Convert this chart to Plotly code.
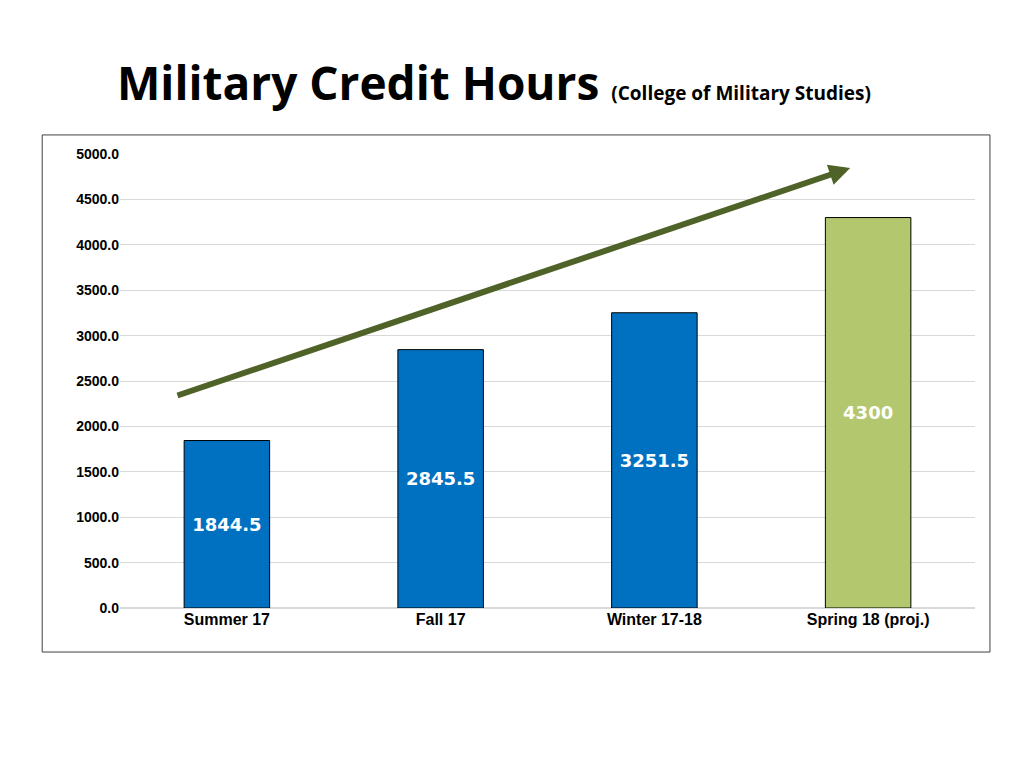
import plotly.graph_objects as go

terms = ['Summer 17', 'Fall 17', 'Winter 17-18', 'Spring 18 (proj.)']
hours = [1844.5, 2845.5, 3251.5, 4300]
labels = ['<b>1844.5</b>', '<b>2845.5</b>', '<b>3251.5</b>', '<b>4300</b>']
colors = ['#0070c0', '#0070c0', '#0070c0', '#b3c76e']

fig = go.Figure(go.Bar(
    x=terms, y=hours, text=labels, textposition='inside', insidetextanchor='middle',
    textfont=dict(family='DejaVu Sans', size=18, color='white'),
    marker=dict(color=colors, line=dict(color='black', width=1)), width=0.4,
))

# trend arrow
fig.add_annotation(x=2.916, y=4846, ax=-0.238, ay=2335, xref='x', yref='y',
                   axref='x', ayref='y', text='', showarrow=True,
                   arrowhead=2, arrowsize=0.7, arrowwidth=6, arrowcolor='#4f6228')

fig.add_shape(type='rect', xref='paper', yref='paper', x0=-0.091, x1=1.0175,
              y0=-0.097, y1=1.042, line=dict(color='#404040', width=1))

fig.add_annotation(xref='paper', yref='paper', x=-0.006, y=1.159, xanchor='left',
                   yanchor='middle', showarrow=False,
                   text='<b>Military Credit Hours</b> <span style="font-size:19px"><b>(College of Military Studies)</b></span>',
                   font=dict(family='Open Sans', size=46, color='black'))

fig.update_layout(
    width=1024, height=768, plot_bgcolor='white', paper_bgcolor='white',
    margin=dict(l=112, r=57, t=146, b=168), showlegend=False,
    font=dict(family='Liberation Sans Narrow, Liberation Sans', size=16, color='black'),
    xaxis=dict(showline=False, ticks='', tickfont=dict(size=16, weight='bold')),
    yaxis=dict(range=[0, 5000], dtick=500, tickformat='.1f', gridcolor='#d9d9d9',
               zeroline=True, zerolinecolor='#d9d9d9', tickfont=dict(size=14, weight='bold')),
)
fig.write_html('out.html')
